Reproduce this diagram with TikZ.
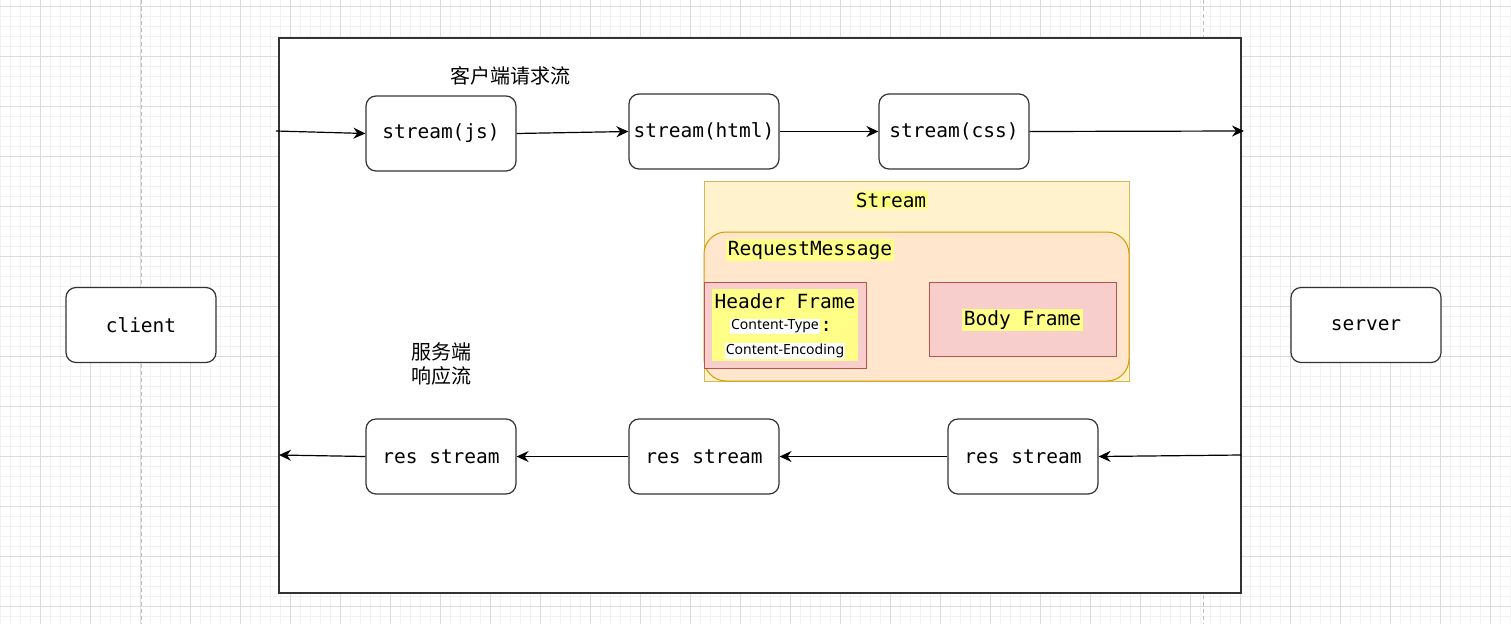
\documentclass[tikz,border=0pt]{standalone}
\usepackage{fontspec}
\setmonofont{DejaVu Sans Mono}
\newfontfamily\cjk{Noto Sans CJK SC}
\newfontfamily\uisans{Noto Sans}
\usetikzlibrary{arrows.meta, positioning}
\definecolor{gridMinor}{HTML}{F2F2F2}
\definecolor{gridMajor}{HTML}{DCDCDC}
\definecolor{hlYellow}{HTML}{FFFF88}
\definecolor{streamFill}{HTML}{FFF2CC}
\definecolor{streamDraw}{HTML}{D6B656}
\definecolor{msgFill}{HTML}{FFE6CC}
\definecolor{msgDraw}{HTML}{D79B00}
\definecolor{frameFill}{HTML}{F8CECC}
\definecolor{frameDraw}{HTML}{B85450}
\tikzset{
    gridMin/.style={draw=gridMinor, line width=0.8pt},
    gridMaj/.style={draw=gridMajor, line width=0.8pt},
    laneLine/.style={draw=black!25, line width=1pt, dashed, dash pattern=on 4pt off 3pt},
    streamBox/.style={draw=black!80, line width=1.2pt, rounded corners=10pt, fill=white, minimum width=150pt, minimum height=75pt, inner sep=0pt, font=\ttfamily\fontsize{19.5}{22}\selectfont},
    hlText/.style={fill=hlYellow, inner sep=1.5pt, font=\ttfamily\fontsize{19.5}{22}\selectfont},
    hdrText/.style={fill=white, inner sep=1pt, font=\uisans\fontsize{14}{16}\selectfont},
    flowEdge/.style={->, >={Stealth[length=12pt, width=11pt, inset=4pt]}, line width=1.2pt},
    cnLabel/.style={font=\cjk\fontsize{20}{24}\selectfont, align=center, inner sep=0pt},
}

\begin{document}
\begin{tikzpicture}[x=1pt, y=-1pt]
        \useasboundingbox (0,0) rectangle (1511,624);

        % grid
        \foreach \x in {0,10,...,1510} \draw[gridMin] (\x,0) -- (\x,624);
        \foreach \y in {6,16,...,616} \draw[gridMin] (0,\y) -- (1511,\y);
        \foreach \x in {40,90,...,1490} \draw[gridMaj] (\x,0) -- (\x,624);
        \foreach \y in {6,56,...,606} \draw[gridMaj] (0,\y) -- (1511,\y);

        % lifelines
        \draw[laneLine] (141,0) -- (141,624);
        \draw[laneLine] (1203,0) -- (1203,624);

        \node[draw=black!80, line width=1.2pt, fill=white, minimum width=962pt, minimum height=555pt, inner sep=0pt] (frame) at (760,315.5) {};

        \node[streamBox] (client) at (141,325) {client};
        \node[streamBox] (server) at (1366,325) {server};

        % request stream
        \node[cnLabel] (reqLabel) at (510,76) {客户端请求流};
        \node[streamBox] (js) at (441,133.5) {stream(js)};
        \node[streamBox] (html) at (704,131.5) {stream(html)};
        \node[streamBox] (css) at (954,131.5) {stream(css)};
        \coordinate (reqIn) at (276,131);
        \coordinate (reqOut) at (1244,131);

        % stream structure
        \node[draw=streamDraw, fill=streamFill, line width=1pt, minimum width=425pt, minimum height=200pt, inner sep=0pt] (stream) at (916.5,281) {};
        \node[hlText] (streamLbl) at (891,200) {Stream};
        \node[draw=msgDraw, fill=msgFill, line width=1pt, rounded corners=22pt, minimum width=425pt, minimum height=149pt, inner sep=0pt] (msg) at (916.5,306.5) {};
        \node[hlText] (msgLbl) at (810,250) {RequestMessage};
        \node[draw=frameDraw, fill=frameFill, line width=1pt, minimum width=162pt, minimum height=86pt, inner sep=0pt] (header) at (785,325) {};
        \node[fill=hlYellow, minimum width=146pt, minimum height=72pt, inner sep=0pt] (hdrBg) at (785,325) {};
        \node[font=\ttfamily\fontsize{19.5}{22}\selectfont, inner sep=0pt] (hdrLbl) at (785,301) {Header Frame};
        \node[hdrText] (ctype) at (775,326.5) {Content-Type};
        \node[font=\ttfamily\fontsize{19.5}{22}\selectfont, inner sep=0pt, right=0pt of ctype] (colon) {:};
        \node[hdrText] (cenc) at (785,350.5) {Content-Encoding};
        \node[draw=frameDraw, fill=frameFill, line width=1pt, minimum width=187pt, minimum height=74pt, inner sep=0pt] (body) at (1022.5,319) {};
        \node[hlText] (bodyLbl) at (1022.5,320) {Body Frame};

        % response stream
        \node[cnLabel] (resLabel) at (441,364) {服务端\\响应流};
        \node[streamBox] (res1) at (441,456.5) {res stream};
        \node[streamBox] (res2) at (704,456.5) {res stream};
        \node[streamBox] (res3) at (1023,456.5) {res stream};
        \coordinate (resIn) at (1241,455);
        \coordinate (resOut) at (279,455);

        \draw[flowEdge] (reqIn) -- (js.west);
        \draw[flowEdge] (js.east) -- (html.west);
        \draw[flowEdge] (html.east) -- (css.west);
        \draw[flowEdge] (css.east) -- (reqOut);
        \draw[flowEdge] (resIn) -- (res3.east);
        \draw[flowEdge] (res3.west) -- (res2.east);
        \draw[flowEdge] (res2.west) -- (res1.east);
        \draw[flowEdge] (res1.west) -- (resOut);

    \end{tikzpicture}
\end{document}
